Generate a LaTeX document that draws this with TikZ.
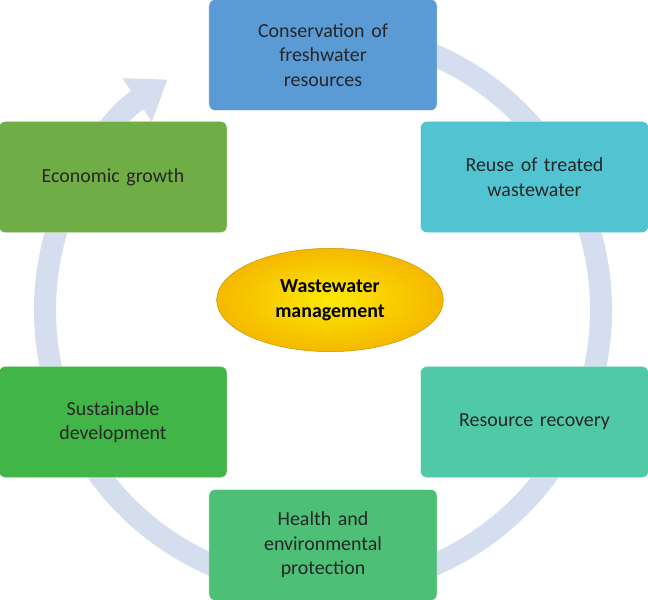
\documentclass[tikz,border=0pt]{standalone}
\usepackage{fontspec}
\setmainfont{Carlito}
\usetikzlibrary{arrows.meta,shapes.geometric}
\definecolor{cblue}{HTML}{5B9BD5}
\definecolor{ccyan}{HTML}{52C3D0}
\definecolor{cteal}{HTML}{4FC9A6}
\definecolor{cgreenb}{HTML}{4DBF76}
\definecolor{cgreenl}{HTML}{42B549}
\definecolor{colive}{HTML}{70AD47}
\definecolor{cring}{HTML}{D5DEEE}
\definecolor{cgold}{HTML}{F5B800}
\tikzset{
	% box for each aspect
	aspect/.style={
		rectangle,
		rounded corners=5pt,
		draw=white, thin,
		minimum width=6.84cm,
		minimum height=3.33cm,
		text width=6.2cm,
		align=center,
		font=\fontsize{17}{21}\selectfont,
		text=black!85},
}
\begin{document}
\begin{tikzpicture}[x=0.03cm,y=-0.03cm]
	\useasboundingbox (0,0) rectangle (648,600);
	
	% ring with arrow
	\coordinate (ringstart) at (371.3,36.2);
	\draw[cring, line width=0.66cm, -{Triangle[length=1.1cm,width=1.5cm]}]
	(ringstart) arc[start angle=-80, end angle=236, radius=278];
	
	\node[aspect,fill=cblue] (cons) at (323,55) {Conservation of\\ freshwater\\ resources};
	\node[aspect,fill=ccyan] (reuse) at (534.5,177) {Reuse of treated\\ wastewater};
	\node[aspect,fill=cteal] (recov) at (534.5,422) {Resource recovery};
	\node[aspect,fill=cgreenb] (health) at (323,545) {Health and\\ environmental\\ protection};
	\node[aspect,fill=cgreenl] (sust) at (113,422) {Sustainable\\ development};
	\node[aspect,fill=colive] (econ) at (113,177) {Economic growth};
	
	\node[ellipse,draw=cgold!80!black,inner color=yellow!70!cgold,outer color=cgold,
	minimum width=6.8cm,minimum height=3.1cm,align=center,
	font=\fontsize{17}{21}\selectfont\bfseries] (mgmt) at (330,300) {Wastewater\\ management};
\end{tikzpicture}
\end{document}
